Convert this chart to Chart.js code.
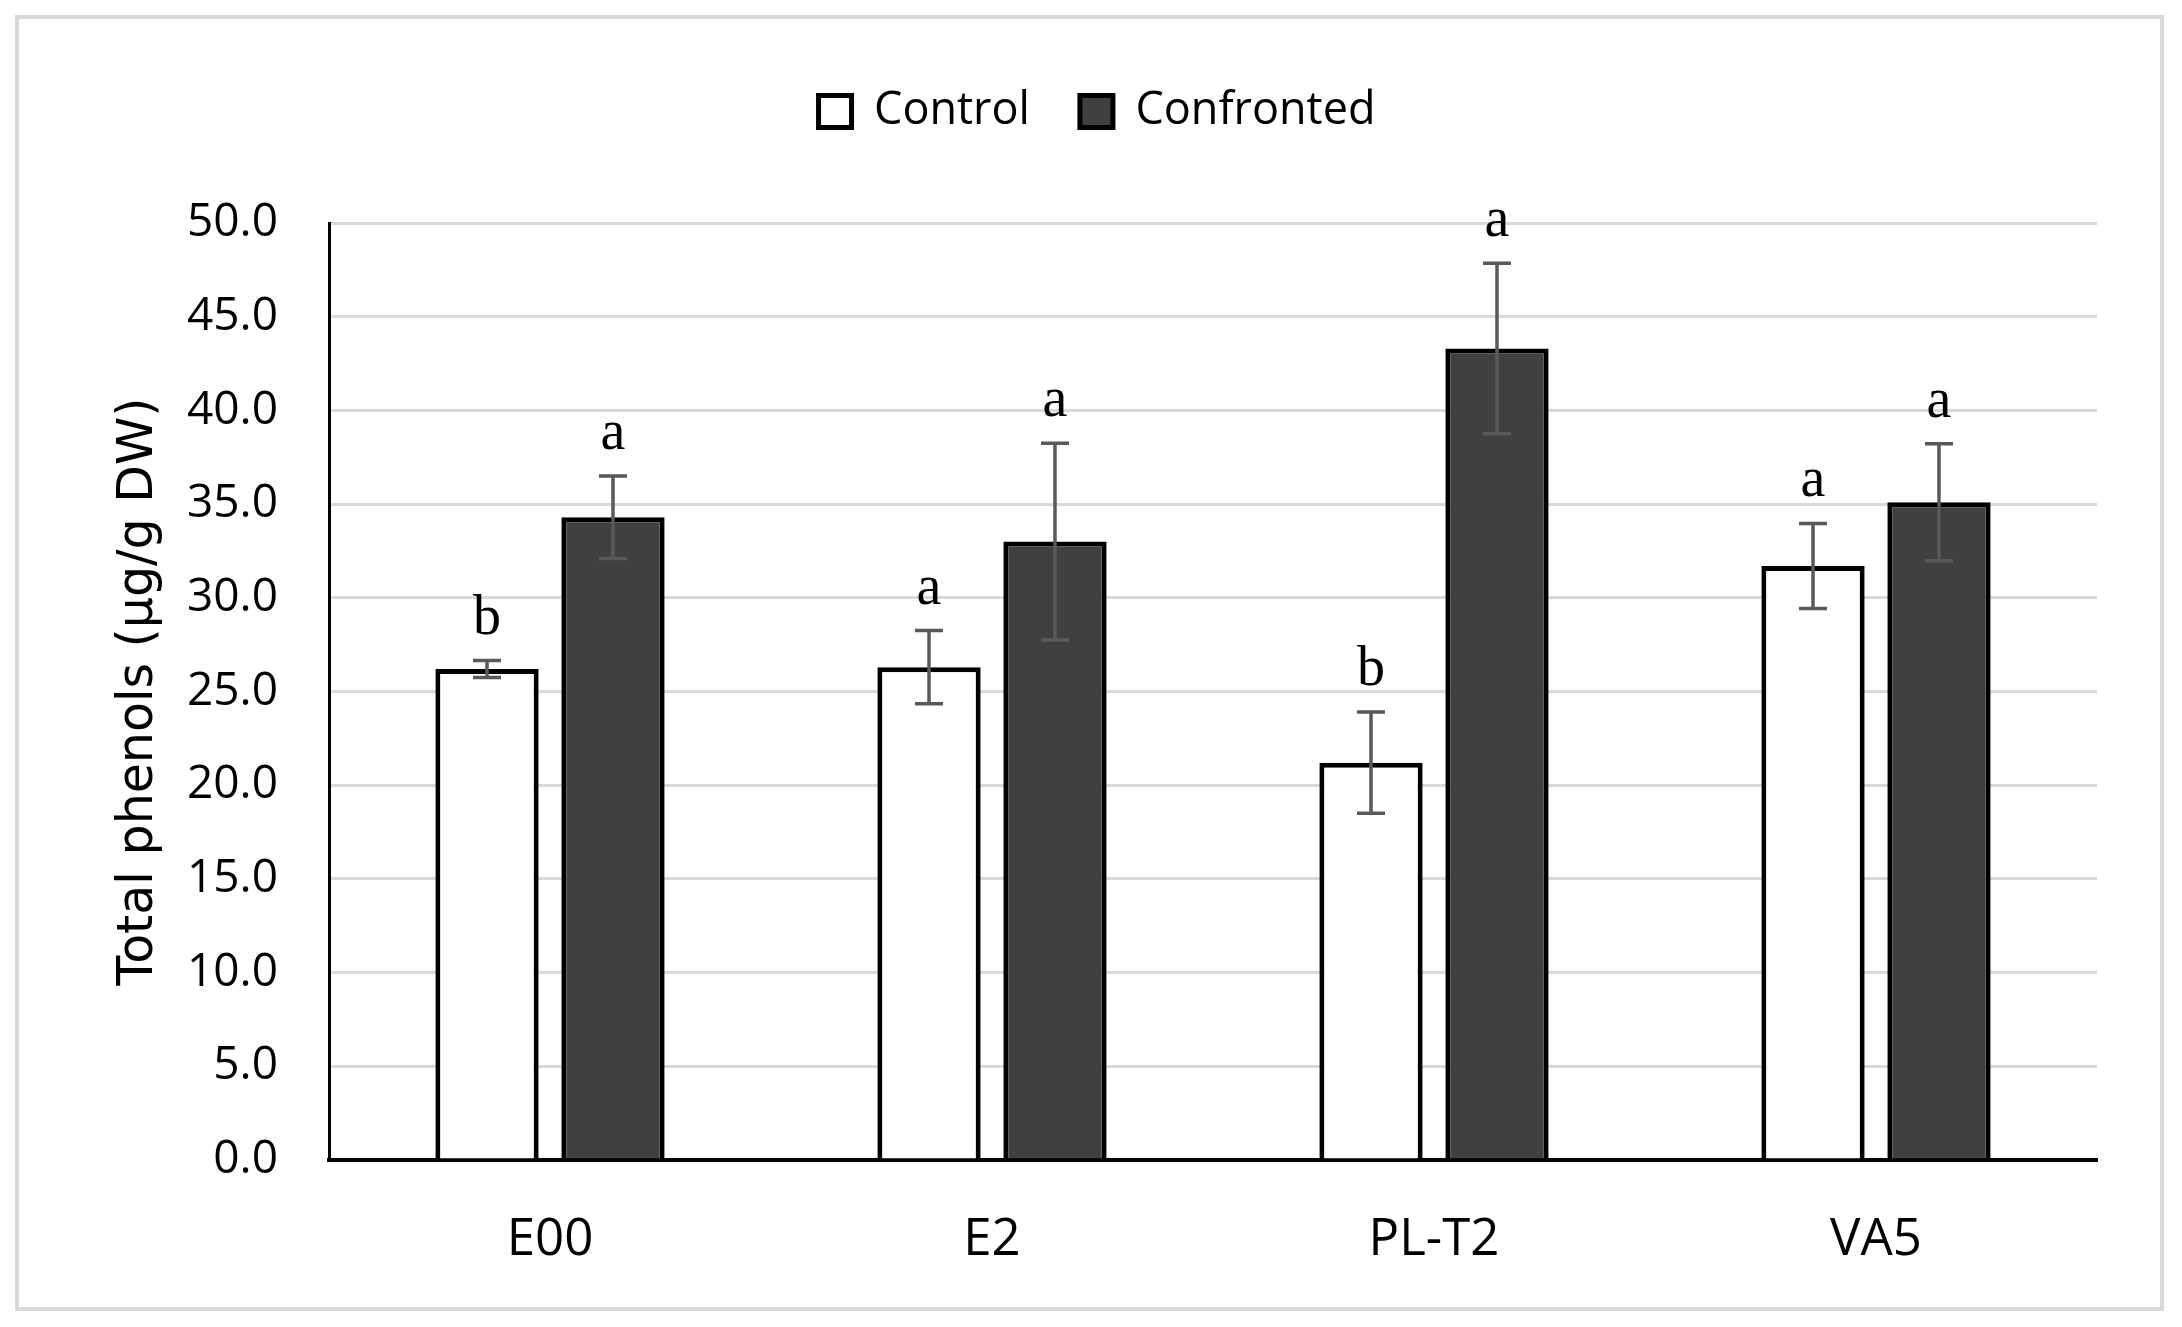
<!DOCTYPE html>
<html>
<head>
<meta charset="utf-8">
<script src="https://cdn.jsdelivr.net/npm/chart.js@4.4.1/dist/chart.umd.min.js"></script>
<style>
  html, body { margin: 0; padding: 0; background: #ffffff; }
  #c { display: block; }
</style>
</head>
<body>
<canvas id="c" width="2182" height="1327"></canvas>
<script>
const categories = ['E00', 'E2', 'PL-T2', 'VA5'];
const seriesNames = ['Control', 'Confronted'];
const controlValues = [26.2, 26.3, 21.2, 31.7];
const confrontedValues = [34.3, 33.0, 43.3, 35.1];
const controlErrors = [0.45, 1.95, 2.7, 2.27];
const confrontedErrors = [2.2, 5.25, 4.55, 3.12];
const controlLetters = ['b', 'a', 'b', 'a'];
const confrontedLetters = ['a', 'a', 'a', 'a'];
const yTickMin = 0;
const yTickMax = 50;
const yTickStep = 5;
const yTitle = 'Total phenols (\u00b5g/g DW)';

const errors = [controlErrors, confrontedErrors];
const letters = [controlLetters, confrontedLetters];

const frame = {
  id: 'frame',
  beforeDraw(chart) {
    const ctx = chart.ctx;
    ctx.save();
    ctx.fillStyle = '#ffffff';
    ctx.fillRect(0, 0, chart.width, chart.height);
    ctx.strokeStyle = '#d9d9d9';
    ctx.lineWidth = 4;
    ctx.strokeRect(17, 17, 2145, 1292);
    ctx.restore();
  }
};

const errorBars = {
  id: 'errorBars',
  afterDatasetsDraw(chart) {
    const ctx = chart.ctx;
    const yScale = chart.scales.y;
    ctx.save();
    chart.data.datasets.forEach((ds, i) => {
      const meta = chart.getDatasetMeta(i);
      meta.data.forEach((bar, j) => {
        const v = ds.data[j];
        const e = errors[i][j];
        const x = bar.x;
        const yTop = yScale.getPixelForValue(v + e);
        const yBot = yScale.getPixelForValue(v - e);
        ctx.strokeStyle = '#595959';
        ctx.lineWidth = 3.5;
        ctx.beginPath();
        ctx.moveTo(x, yTop); ctx.lineTo(x, yBot);
        ctx.moveTo(x - 14, yTop); ctx.lineTo(x + 14, yTop);
        ctx.moveTo(x - 14, yBot); ctx.lineTo(x + 14, yBot);
        ctx.stroke();
        ctx.fillStyle = '#000000';
        ctx.font = '56px "Liberation Serif"';
        ctx.textAlign = 'center';
        ctx.textBaseline = 'alphabetic';
        ctx.fillText(letters[i][j], x, yTop - 27);
      });
    });
    ctx.restore();
  }
};

new Chart(document.getElementById('c'), {
  type: 'bar',
  data: {
    labels: categories,
    datasets: [
      {
        label: seriesNames[0],
        data: controlValues,
        backgroundColor: '#ffffff',
        borderColor: '#000000',
        borderWidth: 5,
        categoryPercentage: 0.57,
        barPercentage: 0.82
      },
      {
        label: seriesNames[1],
        data: confrontedValues,
        backgroundColor: '#404040',
        borderColor: '#000000',
        borderWidth: 5,
        categoryPercentage: 0.57,
        barPercentage: 0.82
      }
    ]
  },
  options: {
    responsive: false,
    devicePixelRatio: 1,
    animation: false,
    layout: { padding: { top: 39, left: 97, right: 85, bottom: 0 } },
    plugins: {
      tooltip: { enabled: false },
      title: { display: false },
      subtitle: {
        display: true,
        text: '',
        position: 'top',
        weight: 500,
        font: { size: 10, lineHeight: 1 },
        padding: { top: 69, bottom: 0 }
      },
      legend: {
        display: true,
        position: 'top',
        labels: {
          color: '#000000',
          font: { family: '"Open Sans"', size: 45 },
          boxWidth: 33,
          boxHeight: 32,
          padding: 50
        }
      }
    },
    scales: {
      x: {
        grid: { display: false },
        border: { display: true, color: '#000000', width: 4 },
        ticks: {
          color: '#000000',
          font: { family: '"Open Sans"', size: 51 },
          padding: 42,
          maxRotation: 0
        },
        afterFit(scale) { scale.height = 167; }
      },
      y: {
        min: yTickMin,
        max: yTickMax,
        grid: { color: '#d9d9d9', lineWidth: 3, drawTicks: false },
        border: { display: true, color: '#000000', width: 3 },
        ticks: {
          stepSize: yTickStep,
          color: '#000000',
          font: { family: '"Open Sans"', size: 46 },
          padding: 51,
          callback: (v) => Number(v).toFixed(1)
        },
        title: {
          display: true,
          text: yTitle,
          color: '#000000',
          font: { family: '"DejaVu Sans"', size: 49 },
          padding: { top: 12.6, bottom: 0 }
        },
        afterFit(scale) { scale.width = 232; }
      }
    }
  },
  plugins: [frame, errorBars]
});
</script>
</body>
</html>
